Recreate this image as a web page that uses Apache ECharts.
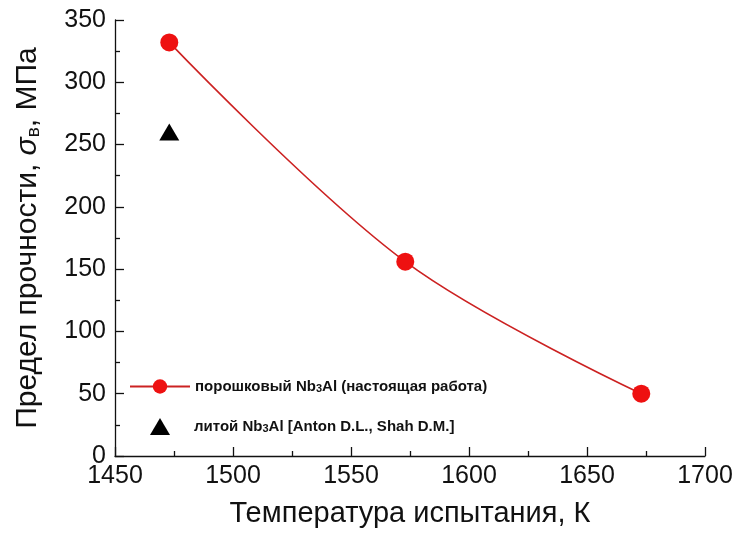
<!DOCTYPE html>
<html><head><meta charset="utf-8">
<script src="https://cdn.jsdelivr.net/npm/echarts@6/dist/echarts.min.js"></script>
<style>html,body{margin:0;padding:0;background:#fff}#c{width:738px;height:533px}</style>
</head><body><div id="c"></div>
<script>
const tempPowder = [1473, 1573, 1673];
const strengthPowder = [332, 156, 50];
const tempCast = [1473];
const strengthCast = [260];
const xTicks = [1450, 1500, 1550, 1600, 1650, 1700];
const yTicks = [0, 50, 100, 150, 200, 250, 300, 350];
const nameA = 'порошковый Nb3Al (настоящая работа)';
const nameB = 'литой Nb3Al [Anton D.L., Shah D.M.]';

const ff = '"Liberation Sans", Arial, sans-serif';
const chart = echarts.init(document.getElementById('c'), null, {renderer: 'canvas'});
const tickStyle = {color: '#111', width: 1.3};
function legendFmt(n) {
  const parts = n.split('Nb3Al');
  return '{t|' + parts[0] + 'Nb}{sub|3}{t|Al' + parts[1] + '}';
}
const legendText = {
  color: '#111',
  rich: {
    t: {fontSize: 15, fontWeight: 'bold', fontFamily: ff, color: '#111'},
    sub: {fontSize: 11, fontWeight: 'bold', fontFamily: ff, color: '#111', verticalAlign: 'bottom', padding: [5, 0, 0, 0]}
  }
};
chart.setOption({
  animation: false,
  grid: {left: 115, right: 33, top: 20, bottom: 77, containLabel: false},
  xAxis: {
    type: 'value', min: xTicks[0], max: xTicks[xTicks.length - 1], interval: 50,
    name: 'Температура испытания, К', nameLocation: 'middle', nameGap: 43,
    nameTextStyle: {color: '#111', fontSize: 29, fontFamily: ff, verticalAlign: 'top'},
    axisLine: {show: true, onZero: false, lineStyle: tickStyle},
    axisTick: {show: true, inside: true, length: 9, lineStyle: tickStyle},
    minorTick: {show: true, splitNumber: 2, length: 5, lineStyle: tickStyle},
    splitLine: {show: false},
    axisLabel: {color: '#111', fontSize: 25, fontFamily: ff, margin: 8,
      formatter: v => String(v)}
  },
  yAxis: {
    type: 'value', min: yTicks[0], max: yTicks[yTicks.length - 1], interval: 50,
    name: '{n|Предел прочности, }{s|σ}{sub|в}{n|, МПа}', nameLocation: 'middle', nameGap: 72,
    nameTextStyle: {color: '#111', fontSize: 30, fontFamily: ff,
      rich: {
        n: {fontSize: 30, fontFamily: ff, color: '#111'},
        s: {fontSize: 30, fontFamily: ff, color: '#111', fontStyle: 'italic'},
        sub: {fontSize: 19, fontFamily: ff, color: '#111', verticalAlign: 'bottom', padding: [10, 0, 0, 0]}
      }},
    axisLine: {show: true, onZero: false, lineStyle: tickStyle},
    axisTick: {show: true, inside: true, length: 9, lineStyle: tickStyle},
    minorTick: {show: true, splitNumber: 2, length: 5, lineStyle: tickStyle},
    splitLine: {show: false},
    axisLabel: {color: '#111', fontSize: 25, fontFamily: ff, margin: 9,
      formatter: v => String(v)}
  },
  legend: [
    {
      orient: 'vertical', left: 124, top: 374, itemWidth: 60, itemHeight: 18,
      data: [nameA], formatter: legendFmt, textStyle: legendText
    },
    {
      orient: 'vertical', left: 124, top: 413, itemWidth: 60, itemHeight: 17,
      data: [{name: nameB, icon: 'path://M0,0 M60,17 M21,17 L31,0 L41,17 Z'}],
      formatter: legendFmt, textStyle: legendText
    }
  ],
  series: [
    {
      name: nameA, type: 'line', smooth: 0.35,
      data: tempPowder.map((t, i) => [t, strengthPowder[i]]),
      symbol: 'circle', symbolSize: 18,
      itemStyle: {color: '#ee1111', opacity: 1},
      lineStyle: {color: '#cc2222', width: 1.6}
    },
    {
      name: nameB, type: 'scatter',
      data: tempCast.map((t, i) => [t, strengthCast[i]]),
      symbol: 'triangle', symbolSize: [20, 17],
      itemStyle: {color: '#000', opacity: 1}
    }
  ]
});
</script></body></html>
